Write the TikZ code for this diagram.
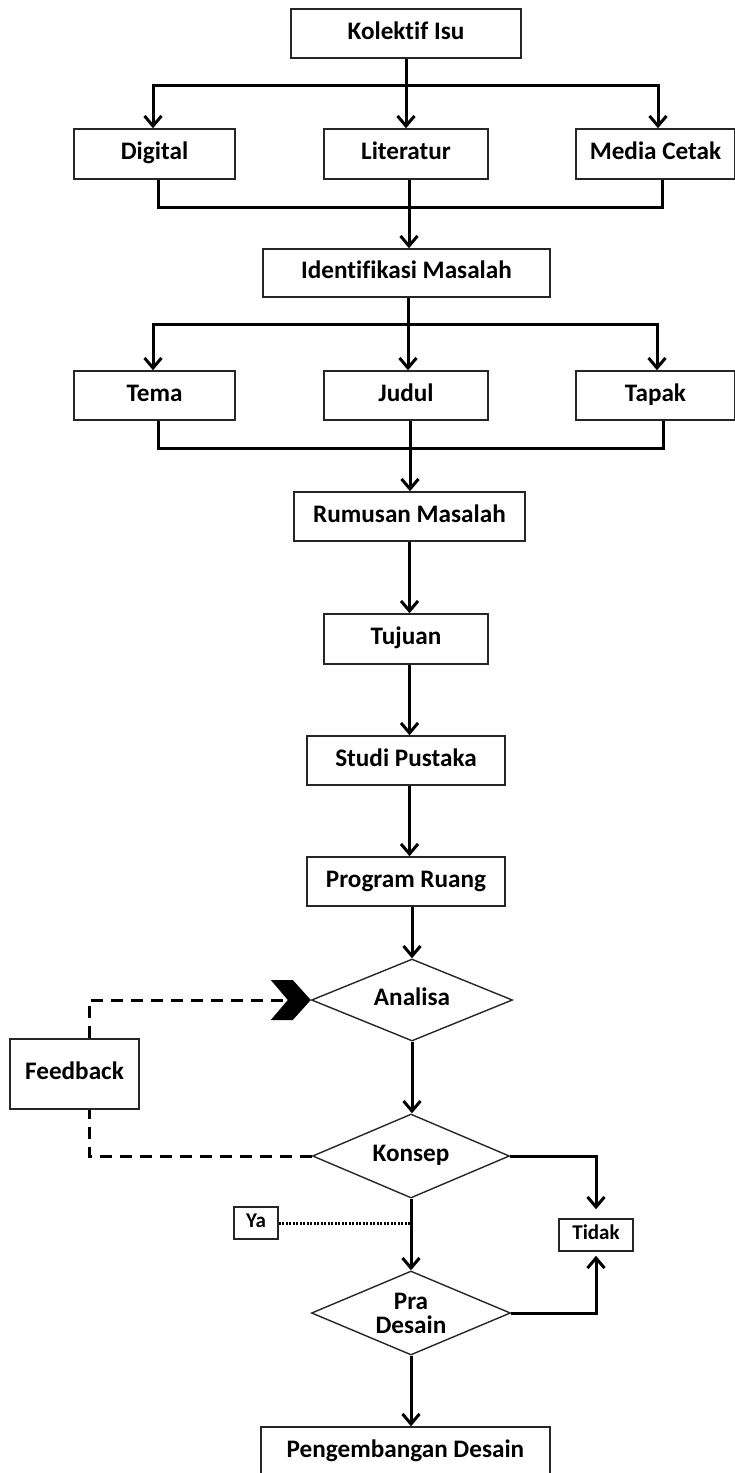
\documentclass[tikz,border=0pt]{standalone}
\usepackage{fontspec}
\setmainfont{Carlito}[Ligatures={TeX,NoCommon}]
\usetikzlibrary{shapes.geometric,arrows.meta}
\begin{document}
\begin{tikzpicture}[x=1pt,y=-1pt,
  >={Straight Barb[length=10pt,width=17pt]},
  box/.style={draw=black!85, line width=1.5pt, rectangle, inner sep=0pt,
    minimum height=49pt, font=\fontsize{25.2}{24}\selectfont\bfseries,
    text height=16pt, text depth=5pt},
  dia/.style={draw=black!85, line width=1.4pt, diamond, inner sep=0pt, aspect=2.4,
    font=\fontsize{25.2}{24}\selectfont\bfseries, align=center},
  smallbox/.style={draw=black!85, line width=1.5pt, rectangle, inner sep=0pt,
    minimum height=32pt, font=\fontsize{21}{20}\selectfont\bfseries,
    text height=13pt, text depth=4pt},
  conn/.style={line width=3pt, draw=black},
  fbline/.style={line width=3pt, draw=black, dash pattern=on 12pt off 8pt},
  dotline/.style={line width=3pt, draw=black, dash pattern=on 2.2pt off 1.3pt}
]
\useasboundingbox (0,0) rectangle (734,1473);

% nodes
\node[box, minimum width=230pt] (kol) at (406,33.5) {Kolektif Isu};
\node[box, minimum width=161pt, minimum height=50pt] (dig) at (154.5,154) {Digital};
\node[box, minimum width=164pt, minimum height=50pt] (lit) at (406,154) {Literatur};
\node[box, minimum width=159pt, minimum height=50pt] (med) at (655.5,154) {Media Cetak};
\node[box, minimum width=287pt, minimum height=48pt] (idm) at (406.5,273) {Identifikasi Masalah};
\node[box, minimum width=161pt] (tema) at (154.5,395.5) {Tema};
\node[box, minimum width=164pt] (jud) at (406,395.5) {Judul};
\node[box, minimum width=159pt] (tap) at (655.5,395.5) {Tapak};
\node[box, minimum width=231pt] (rum) at (409.5,516.5) {Rumusan Masalah};
\node[box, minimum width=164pt, minimum height=50pt] (tuj) at (406,639) {Tujuan};
\node[box, minimum width=198pt] (stu) at (406,760.5) {Studi Pustaka};
\node[box, minimum width=198pt] (pro) at (406,881.5) {Program Ruang};
\node[dia, minimum width=201pt, minimum height=82pt, text height=16pt, text depth=5pt] (ana) at (412,1000) {Analisa};
\node[dia, minimum width=197pt, minimum height=84pt, text height=16pt, text depth=5pt] (kon) at (411,1156) {Konsep};
\node[dia, minimum width=199pt, minimum height=84pt] (pra) at (411,1313) {Pra\\Desain};
\node[box, minimum width=129pt, minimum height=70pt] (fb) at (74.5,1074) {Feedback};
\node[smallbox, minimum width=44pt] (ya) at (256,1223) {Ya};
\node[smallbox, minimum width=74pt] (tid) at (596,1235) {Tidak};
\node[box, minimum width=289pt, minimum height=50pt] (peng) at (405.5,1452) {Pengembangan Desain};

% helper coordinates
\coordinate (s1) at (406,85);
\coordinate (j1) at (409,207);
\coordinate (s2) at (408,324);
\coordinate (j2) at (410,448);

% top branch
\draw[conn,->] (kol.south) -- (lit.north);
\draw[conn,<->] ([xshift=-1.5pt]dig.north) -- ([xshift=-1.5pt]dig.north |- s1)
  -- ([xshift=2.5pt]med.north |- s1) -- ([xshift=2.5pt]med.north);
\draw[conn] ([xshift=3.5pt]dig.south) |- (j1) -| ([xshift=6.5pt]med.south);
\draw[conn,->] ([xshift=3pt]lit.south) -- ([xshift=3pt]lit.south |- idm.north);

% second branch
\draw[conn,->] ([xshift=1.5pt]idm.south) -- ([xshift=1.5pt]idm.south |- jud.north);
\draw[conn,<->] ([xshift=-1.5pt]tema.north) -- ([xshift=-1.5pt]tema.north |- s2)
  -- ([xshift=1.5pt]tap.north |- s2) -- ([xshift=1.5pt]tap.north);
\draw[conn] ([xshift=3.5pt]tema.south) |- (j2) -| ([xshift=7.5pt]tap.south);
\draw[conn,->] ([xshift=4pt]jud.south) -- ([xshift=4pt]jud.south |- rum.north);

% main chain
\draw[conn,->] (rum.south) -- (rum.south |- tuj.north);
\draw[conn,->] (rum.south |- tuj.south) -- (rum.south |- stu.north);
\draw[conn,->] (rum.south |- stu.south) -- (rum.south |- pro.north);
\draw[conn,->] (ana.north |- pro.south) -- (ana.north);
\draw[conn,->] (ana.south) -- (ana.south |- kon.north);
\draw[conn,->] (kon.south) -- (pra.north);
\draw[conn,->] (pra.south) -- (pra.south |- peng.north);

% Tidak branches
\draw[conn,->,shorten >=9pt] (kon.east) -| (tid.north);
\draw[conn,->,shorten >=4pt] (pra.east) -| (tid.south);

% Ya dotted
\draw[dotline] (ya.east) -- (ya.east -| kon.south);

% feedback loop
\draw[fbline] (kon.west) -| ([xshift=14.5pt]fb.south);
\draw[fbline] ([xshift=14.5pt]fb.north) |- ([xshift=-22pt]ana.west);
\fill[black] (ana.west) -- ++(-18,-20) -- ++(-22,0) -- ++(17,20) -- ++(-17,20) -- ++(22,0) -- cycle;
\end{tikzpicture}
\end{document}
